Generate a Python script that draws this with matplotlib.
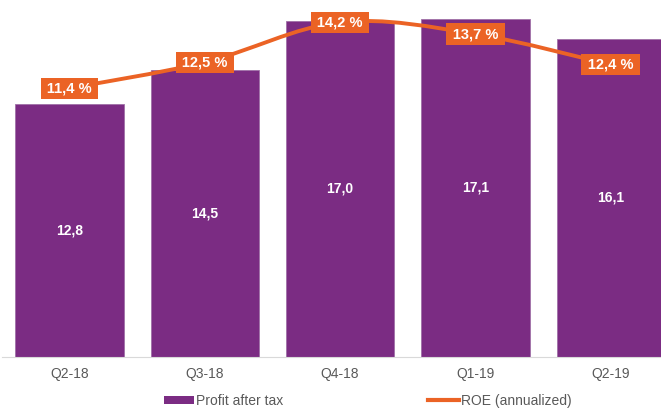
import matplotlib.pyplot as plt
import numpy as np
from matplotlib.path import Path
from matplotlib.patches import PathPatch, Patch
from matplotlib.lines import Line2D

plt.rcParams['font.family'] = ['Liberation Sans', 'DejaVu Sans']

quarters = ["Q2-18", "Q3-18", "Q4-18", "Q1-19", "Q2-19"]
profit = [12.8, 14.5, 17.0, 17.1, 16.1]
roe = [11.4, 12.5, 14.2, 13.7, 12.4]

purple = "#7B2C83"
orange = "#EB6325"


def smooth_path(xs, ys):
    # catmull-rom -> cubic bezier, roughly like excel's smoothed line
    pts = np.column_stack([xs, ys]).astype(float)
    ext = np.vstack([pts[0], pts, pts[-1]])
    verts = [pts[0]]
    codes = [Path.MOVETO]
    for i in range(1, len(ext) - 2):
        p0, p1, p2, p3 = ext[i - 1], ext[i], ext[i + 1], ext[i + 2]
        c1 = p1 + (p2 - p0) / 6
        c2 = p2 - (p3 - p1) / 6
        verts += [c1, c2, p2]
        codes += [Path.CURVE4] * 3
    return Path(verts, codes)


fig = plt.figure(figsize=(6.61, 4.08), dpi=100)
ax = fig.add_axes([1.85 / 661, 51 / 408, 676.5 / 661, 356 / 408])
x = np.arange(len(quarters))

ax.bar(x, profit, width=0.8, color=purple, edgecolor="#A070A8", linewidth=0.6)
for xi, v in zip(x, profit):
    ax.text(xi, v / 2, f"{v:.1f}".replace(".", ","), ha="center", va="center",
            color="white", fontsize=10, fontweight="bold")

ax.set_xlim(-0.5, len(quarters) - 0.5)
ax.set_ylim(0, 18)
ax.set_yticks([])
ax.set_xticks(x)
ax.set_xticklabels(quarters, color="#595959", fontsize=10)
ax.tick_params(axis="x", length=0, pad=7)
for s in ["top", "left", "right"]:
    ax.spines[s].set_visible(False)
ax.spines["bottom"].set_color("#D9D9D9")

ax2 = ax.twinx()
ax2.set_ylim(0, 15.1)
ax2.set_yticks([])
for s in ax2.spines.values():
    s.set_visible(False)
ax2.add_patch(PathPatch(smooth_path(x, roe), facecolor="none", edgecolor=orange, lw=2.8))
for xi, v in zip(x, roe):
    ax2.text(xi, v, "\u2009" + f"{v:.1f} %".replace(".", ",") + "\u2009", ha="center", va="center",
             color="white", fontsize=10.5, fontweight="bold",
             bbox=dict(boxstyle="square,pad=0.25", facecolor=orange, edgecolor="none"))

handles = [Patch(facecolor=purple, edgecolor="none"),
           Line2D([0], [0], color=orange, lw=3)]
fig.legend(handles, ["Profit after tax", "ROE (annualized)"], loc="lower center",
           bbox_to_anchor=(0.556, -0.03), ncol=2, frameon=False, fontsize=10,
           handlelength=2.2, handleheight=0.5, handletextpad=0.15, columnspacing=10.4,
           labelcolor="#595959")

fig.savefig("out.png", dpi=100)
